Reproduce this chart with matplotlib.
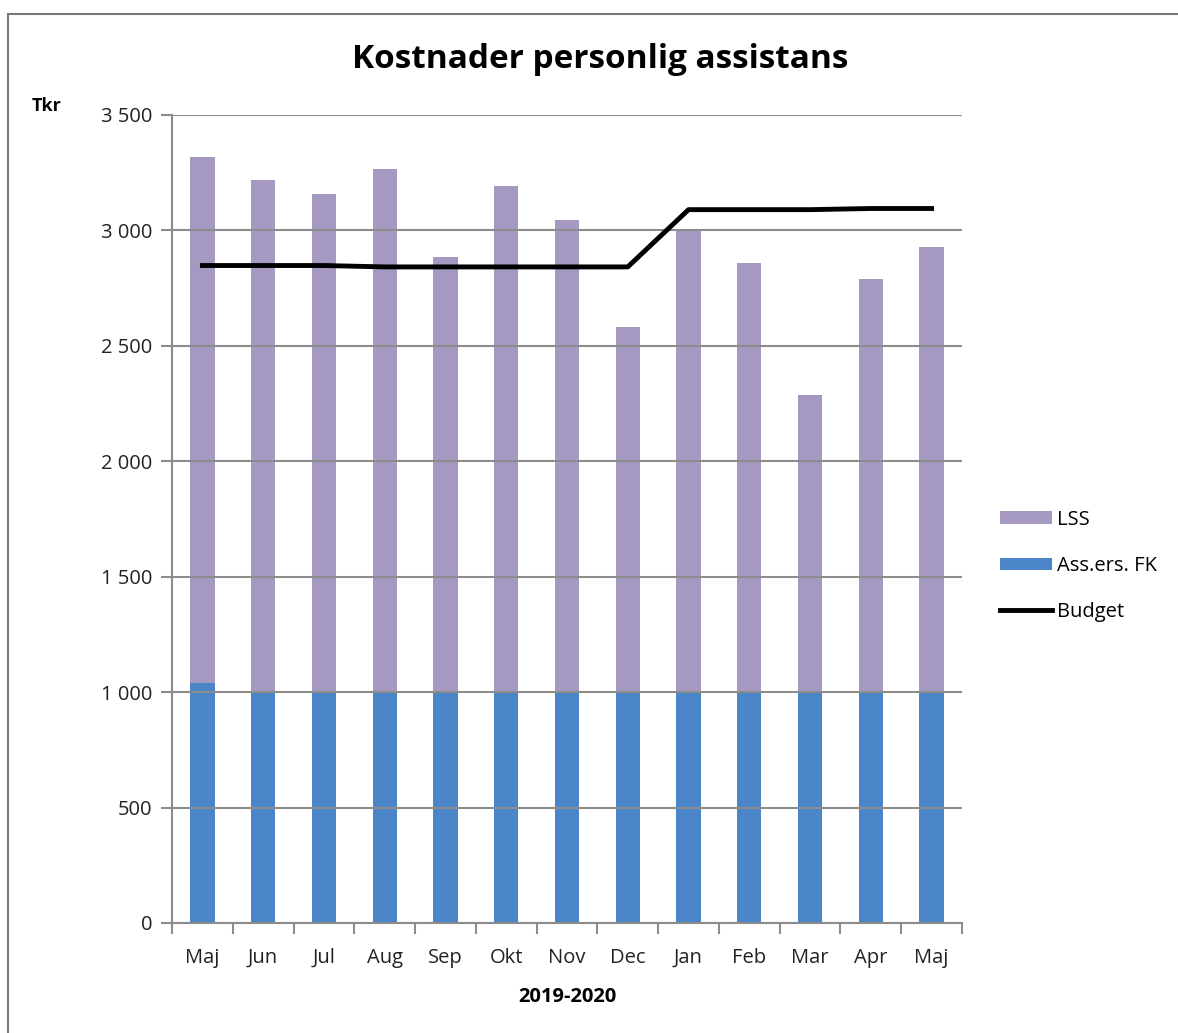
import matplotlib.pyplot as plt
import numpy as np
from matplotlib.patches import Rectangle
from matplotlib.ticker import FuncFormatter, MultipleLocator

# Månader maj 2019 - maj 2020
months = ['Maj', 'Jun', 'Jul', 'Aug', 'Sep', 'Okt', 'Nov', 'Dec',
          'Jan', 'Feb', 'Mar', 'Apr', 'Maj']
# Totala kostnader per månad (Tkr), staplarnas topp
total_cost = [3318, 3218, 3158, 3266, 2885, 3192, 3045, 2582,
              3006, 2859, 2287, 2790, 2928]
ass_ers_fk = [1040, 1000, 1000, 1003, 1000, 1000, 1000, 1000,
              1000, 1000, 1000, 1000, 1000]
budget = [2848, 2848, 2848, 2842, 2842, 2842, 2842, 2842,
          3090, 3090, 3090, 3095, 3095]

lss = [t - f for t, f in zip(total_cost, ass_ers_fk)]

plt.rcParams['font.family'] = ['Open Sans', 'DejaVu Sans']

fig = plt.figure(figsize=(11.78, 10.33), dpi=100)
ax = fig.add_axes([172 / 1178, 1 - 923 / 1033, 790 / 1178, 808 / 1033])

x = np.arange(len(months))
ax.bar(x, ass_ers_fk, width=0.4, color='#4a86c8', label='Ass.ers. FK', zorder=2)
ax.bar(x, lss, width=0.4, bottom=ass_ers_fk, color='#a599c1', label='LSS', zorder=2)
ax.plot(x, budget, color='black', linewidth=3.5, label='Budget', zorder=4)

ax.set_xlim(-0.5, len(months) - 0.5)
ax.set_ylim(0, 3500)
ax.yaxis.set_major_locator(MultipleLocator(500))
ax.yaxis.set_major_formatter(FuncFormatter(lambda v, p: f'{int(v):,}'.replace(',', ' ')))
ax.grid(axis='y', color='#8c8c8c', linewidth=1.5, zorder=3)
ax.set_axisbelow(False)

ax.set_xticks(x)
ax.set_xticklabels(months, fontsize=14.5, color='#222222')
ax.set_xticks(np.arange(-0.5, len(months)), minor=True)
ax.tick_params(axis='x', which='major', length=0, pad=18)
ax.tick_params(axis='x', which='minor', length=8, color='#8c8c8c', width=1.5)
ax.tick_params(axis='y', length=8, color='#8c8c8c', width=1.5, labelsize=14.5,
               labelcolor='#222222', pad=6)

for side in ['top', 'right']:
    ax.spines[side].set_visible(False)
for side in ['left', 'bottom']:
    ax.spines[side].set_color('#8c8c8c')
    ax.spines[side].set_linewidth(1.5)

ax.set_xlabel('2019-2020', fontsize=14.5, fontweight='bold', labelpad=14)
fig.text(600 / 1178, 1 - 60 / 1033, 'Kostnader personlig assistans',
         fontsize=24, fontweight='bold', ha='center', va='center')
fig.text(47 / 1178, 1 - 106 / 1033, 'Tkr', fontsize=13, fontweight='bold',
         ha='center', va='center')

handles, labels = ax.get_legend_handles_labels()
order = [labels.index(l) for l in ['LSS', 'Ass.ers. FK', 'Budget']]
fig.legend([handles[i] for i in order], [labels[i] for i in order],
           loc='center left', bbox_to_anchor=(982 / 1178, 1 - 566 / 1033),
           frameon=False, fontsize=14.5, handlelength=2.6, handleheight=0.6,
           handletextpad=0.2, labelspacing=1.3)

# ram runt diagrammet
fig.patches.append(Rectangle((8 / 1178, -0.1), 1.2, 1 - 14 / 1033 + 0.1,
                             transform=fig.transFigure, fill=False,
                             edgecolor='#777777', linewidth=1.5))

fig.savefig('out.png', dpi=100)
